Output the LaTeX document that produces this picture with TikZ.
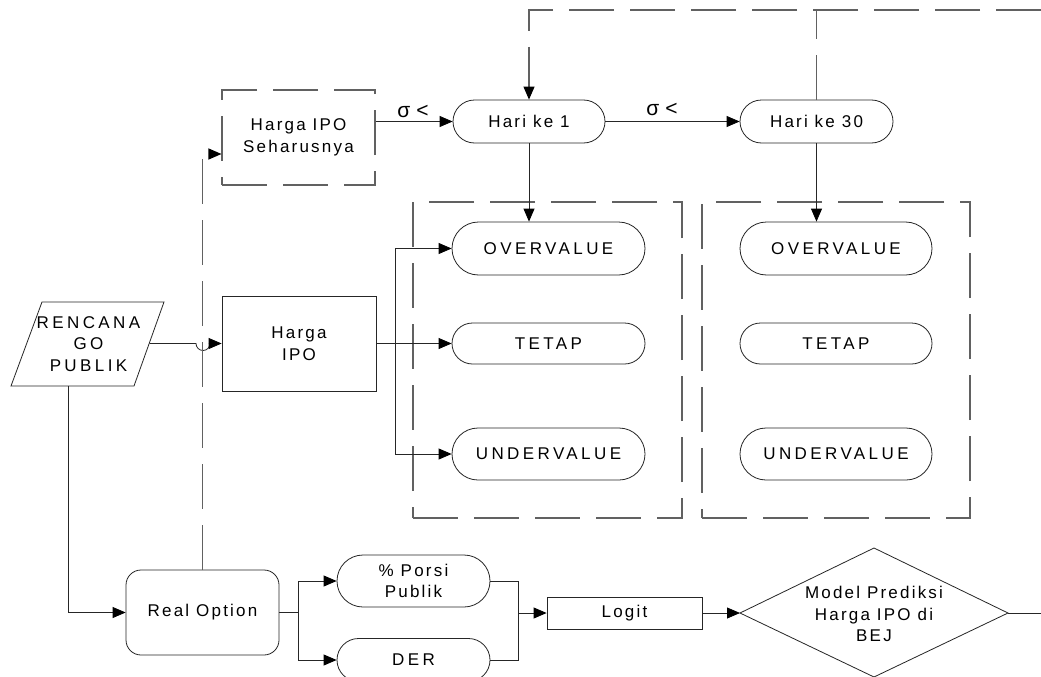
\documentclass[tikz,border=0pt]{standalone}
\usepackage{fontspec}
\setmainfont{Liberation Sans}
\newfontfamily\capsfont[LetterSpace=20]{Liberation Sans}
\newfontfamily\mixfont[LetterSpace=13]{Liberation Sans}
\usetikzlibrary{arrows.meta,shapes.misc}
\tikzset{
  sl/.style={draw=black!85, line width=0.8pt},
  dl/.style={draw=black!62, line width=1.1pt, dash pattern=on 45pt off 16pt},
  arr/.style={-{Triangle[length=13pt,width=11pt,color=black]}},
  capstxt/.style={font=\capsfont\fontsize{17}{21.5}\selectfont, align=center},
  mixtxt/.style={font=\mixfont\fontsize{17}{21.5}\selectfont, align=center},
  stadium/.style={rounded rectangle, sl, inner sep=0pt},
  boxnode/.style={rectangle, sl, inner sep=0pt},
  dbox/.style={rectangle, dl, inner sep=0pt},
  siglabel/.style={font=\fontsize{21}{22}\selectfont, inner sep=0pt},
}
\begin{document}
\begin{tikzpicture}[x=1pt,y=-1pt]
\useasboundingbox[fill=white] (0,0) rectangle (1041,677);

% top row
\node[dbox, mixtxt, minimum width=153, minimum height=95] (seh) at (298.5,137.5) {Harga IPO\\Seharusnya};
\node[stadium, mixtxt, minimum width=152, minimum height=43] (h1) at (529,121.5) {Hari ke 1};
\node[stadium, mixtxt, minimum width=153, minimum height=43] (h30) at (816.5,121.5) {Hari ke 30};

% column boxes
\node[dbox, minimum width=269, minimum height=316] (col1) at (547.5,360) {};
\node[dbox, minimum width=268, minimum height=316] (col2) at (836,360) {};

% outcome stadiums
\node[stadium, capstxt, minimum width=193, minimum height=53] (o1) at (548.5,248.5) {OVERVALUE};
\node[stadium, capstxt, minimum width=193, minimum height=41] (t1) at (548.5,343.5) {TETAP};
\node[stadium, capstxt, minimum width=193, minimum height=52] (u1) at (548.5,454) {UNDERVALUE};
\node[stadium, capstxt, minimum width=192, minimum height=53] (o2) at (836,248.5) {OVERVALUE};
\node[stadium, capstxt, minimum width=192, minimum height=41] (t2) at (836,343.5) {TETAP};
\node[stadium, capstxt, minimum width=192, minimum height=52] (u2) at (836,454) {UNDERVALUE};

% left side
\draw[sl] (42,302) -- (164,302) -- (134,386) -- (11,386) -- cycle;
\node[capstxt] (ren) at (88.5,344) {RENCANA\\GO\\PUBLIK};
\coordinate (rE) at (149.5,343.5);
\coordinate (rS) at (68,386);
\node[boxnode, mixtxt, minimum width=154, minimum height=95] (hipo) at (299,343.5) {Harga\\IPO};

% bottom row
\node[boxnode, mixtxt, rounded corners=15pt, minimum width=153, minimum height=85] (ro) at (202.5,612.5) {Real Option};
\node[stadium, mixtxt, minimum width=153, minimum height=52] (po) at (413.5,581) {\% Porsi\\Publik};
\node[stadium, capstxt, minimum width=153, minimum height=43] (der) at (413.5,660) {DER};
\node[boxnode, mixtxt, minimum width=155, minimum height=32] (lg) at (624.5,613) {Logit};
\draw[sl] (740,613) -- (874,548) -- (1008,613) -- (874,677) -- cycle;
\coordinate (dW) at (740,613);
\coordinate (dE) at (1008,613);
\node[mixtxt] (model) at (874,614) {Model Prediksi\\Harga IPO di\\BEJ};
\coordinate (rEdge) at (1041,613);

% helper coordinates
\coordinate (topR) at (1041,10);
\coordinate (hj) at (395,343.5);
\coordinate (rj) at (298,612.5);
\coordinate (pj) at (518,613);

% connectors top
\draw[sl,arr] (seh.east |- h1.west) -- (h1.west);
\node[siglabel] (s1) at (413,111) {σ <};
\draw[sl,arr] (h1.east) -- (h30.west);
\node[siglabel] (s2) at (662,109) {σ <};
\draw[dl] (h30.north) -- (h30.north |- topR);
\draw[dl,arr] (topR) -- (h1.north |- topR) -- (h1.north);
\draw[sl,arr] (h1.south) -- (h1.south |- o1.north);
\draw[sl,arr] (h30.south) -- (h30.south |- o2.north);

% Harga IPO fan-out
\draw[sl,arr] (hipo.east) -- (t1.west);
\draw[sl,arr] (hj) |- (o1.west);
\draw[sl,arr] (hj) |- (u1.west);

% Rencana connectors
\draw[sl,arr] (rE) -- (196,343.5) arc[start angle=180,end angle=0,radius=7] -- (hipo.west);
\draw[sl,arr] (rS) |- (ro.west);
\draw[dl,arr] (ro.north) |- ([yshift=-16.5pt]seh.west);

% bottom connectors
\draw[sl] (ro.east) -- (rj);
\draw[sl,arr] (rj) |- (po.west);
\draw[sl,arr] (rj) |- (der.west);
\draw[sl] (po.east) -| (pj);
\draw[sl] (der.east) -| (pj);
\draw[sl,arr] (pj) -- (lg.west);
\draw[sl,arr] (lg.east) -- (dW);
\draw[sl] (dE) -- (rEdge);
\end{tikzpicture}
\end{document}
